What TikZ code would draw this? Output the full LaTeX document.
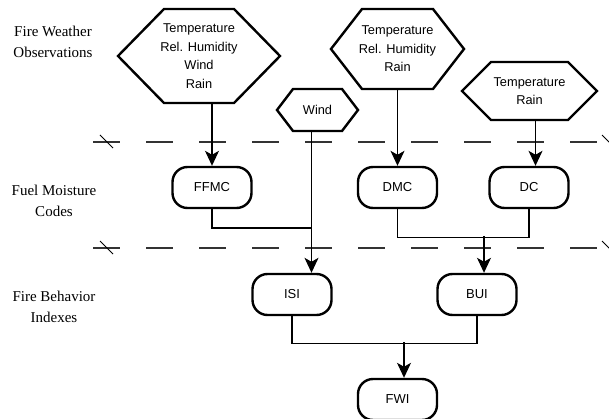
\documentclass[tikz,border=0pt]{standalone}
\usepackage{fontspec}
\setmainfont{Liberation Serif}
\setsansfont{Liberation Sans}
\usetikzlibrary{arrows.meta,positioning,calc}
\tikzset{
  obs/.style={inner sep=0pt,outer sep=0pt,align=center,font=\sffamily\fontsize{12.8}{18.5}\selectfont},
  hexline/.style={line width=2.4pt,line join=miter},
  kod/.style={draw,line width=2.4pt,rounded corners=15pt,minimum width=79pt,minimum height=41pt,
              inner sep=0pt,font=\sffamily\fontsize{13}{15}\selectfont},
  sor/.style={align=center,font=\fontsize{15}{21}\selectfont},
  vonal/.style={line width=1.1pt},
  nyil/.style={line width=1.1pt,-{Stealth[length=15pt,width=14pt,inset=4pt]}},
  hatar/.style={line width=1.3pt,black!80,dash pattern=on 26.5pt off 26.5pt},
}
% hatszog a node kore: #1 nev, #2 a csucs behuzasa
\newcommand\hexdraw[2]{%
  \draw[hexline] (#1.west) -- ([xshift=#2pt]#1.north west) -- ([xshift=-#2pt]#1.north east)
    -- (#1.east) -- ([xshift=-#2pt]#1.south east) -- ([xshift=#2pt]#1.south west) -- cycle;}

\begin{document}
\begin{tikzpicture}[x=1pt,y=-1pt]
  \useasboundingbox (0,0) rectangle (609,419);
  % 1. sorcimkek
  \node[sor] (l1) at (53,42) {Fire Weather\\Observations};
  \node[sor] (l2) at (54,201) {Fuel Moisture\\Codes};
  \node[sor] (l3) at (54,307) {Fire Behavior\\Indexes};
  % 2. hatarvonalak
  \draw[hatar] (93,142) -- (597,142);
  \draw[hatar] (93,248) -- (597,248);
  \draw[line width=0.9pt] (100,135) -- (113,148);
  \draw[line width=0.9pt] (100,241) -- (113,254);
  \draw[line width=0.9pt] (602,135) -- (612,145);
  \draw[line width=0.9pt] (602,241) -- (612,251);
  % 3. megfigyelesek
  \node[obs,minimum width=162pt,minimum height=94pt] (wA) at (199,56)
    {Temperature\\Rel. Humidity\\Wind\\Rain};
  \node[obs,minimum width=81pt,minimum height=42pt] (wind) at (317.5,110) {Wind};
  \node[obs,minimum width=133pt,minimum height=80pt] (wB) at (397.5,49)
    {Temperature\\Rel. Humidity\\Rain};
  \node[obs,minimum width=135pt,minimum height=58pt] (wC) at (529.5,91) {Temperature\\Rain};
  \hexdraw{wA}{46}
  \hexdraw{wind}{16}
  \hexdraw{wB}{31}
  \hexdraw{wC}{29}
  % 4. kodok es indexek
  \node[kod] (ffmc) at (212,187.5) {FFMC};
  \node[kod] (dmc) at (397.5,187.5) {DMC};
  \node[kod] (dc) at (529,187.5) {DC};
  \node[kod] (isi) at (292,294.5) {ISI};
  \node[kod] (bui) at (477,294.5) {BUI};
  \node[kod] (fwi) at (397.5,399.5) {FWI};
  % 5. kapcsolatok
  \draw[nyil] (ffmc |- wA.south) -- (ffmc.north);
  \draw[nyil] (dmc |- wB.south) -- (dmc.north);
  \draw[nyil] ([xshift=6pt]wC.south) -- ([xshift=6pt]wC.south |- dc.north);
  \coordinate (j1) at ([xshift=-6pt]wind.south |- 0,228);
  \draw[nyil] ([xshift=-6pt]wind.south) -- ([xshift=-6pt]wind.south |- isi.north);
  \draw[vonal] (ffmc.south) |- (j1);
  \draw[vonal] (dmc.south) -- ++(0,28.5) -| (dc.south);
  \coordinate (j2) at (484,236);
  \draw[nyil] (j2) -- (j2 |- bui.north);
  \draw[vonal] (isi.south) -- ++(0,27) -| (bui.south);
  \coordinate (j3) at (404,342);
  \draw[nyil] (j3) -- (j3 |- fwi.north);
\end{tikzpicture}
\end{document}
